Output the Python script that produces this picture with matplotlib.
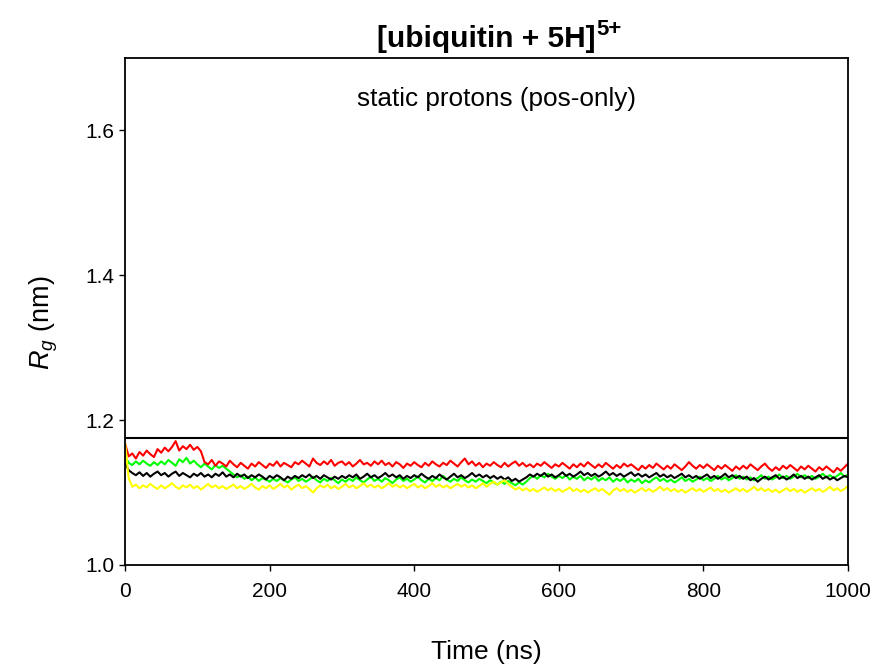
import numpy as np
import matplotlib
matplotlib.use("Agg")
import matplotlib.pyplot as plt

plt.rcParams['font.family'] = ['Liberation Sans', 'DejaVu Sans']
plt.rcParams['mathtext.fontset'] = 'custom'
plt.rcParams['mathtext.rm'] = 'Liberation Sans'
plt.rcParams['mathtext.it'] = 'Liberation Sans:italic'
plt.rcParams['mathtext.bf'] = 'Liberation Sans:bold'

# time axis, one sample every 5 ns
time_ns = np.arange(0, 1001, 5)
rg_crystal = 1.175

# Rg traces (nm)
rg_red = [
    1.168, 1.150, 1.154, 1.147, 1.156, 1.151, 1.158, 1.153, 1.149, 1.160,
    1.155, 1.162, 1.157, 1.163, 1.171, 1.158, 1.164, 1.160, 1.166, 1.159,
    1.163, 1.157, 1.142, 1.139, 1.145, 1.137, 1.143, 1.140, 1.136, 1.144,
    1.139, 1.135, 1.141, 1.137, 1.133, 1.140, 1.136, 1.142, 1.138, 1.134,
    1.140, 1.137, 1.143, 1.136, 1.141, 1.138, 1.135, 1.142, 1.139, 1.144,
    1.140, 1.136, 1.147, 1.141, 1.138, 1.143, 1.139, 1.145, 1.137, 1.141,
    1.143, 1.138, 1.142, 1.136, 1.140, 1.145, 1.139, 1.141, 1.137, 1.143,
    1.139, 1.144, 1.138, 1.141, 1.136, 1.142, 1.139, 1.134, 1.140, 1.137,
    1.142, 1.138, 1.135, 1.141, 1.137, 1.143, 1.139, 1.136, 1.141, 1.138,
    1.144, 1.140, 1.136, 1.142, 1.147, 1.139, 1.143, 1.137, 1.141, 1.135,
    1.140, 1.137, 1.142, 1.138, 1.135, 1.141, 1.136, 1.140, 1.143, 1.137,
    1.141, 1.136, 1.139, 1.135, 1.140, 1.137, 1.142, 1.138, 1.134, 1.139,
    1.136, 1.141, 1.137, 1.133, 1.139, 1.135, 1.140, 1.136, 1.142, 1.138,
    1.134, 1.139, 1.135, 1.141, 1.137, 1.133, 1.138, 1.134, 1.140, 1.136,
    1.139, 1.135, 1.131, 1.137, 1.133, 1.138, 1.134, 1.140, 1.136, 1.132,
    1.137, 1.133, 1.139, 1.135, 1.131, 1.136, 1.142, 1.137, 1.133, 1.138,
    1.134, 1.139, 1.135, 1.131, 1.137, 1.133, 1.138, 1.134, 1.130, 1.136,
    1.132, 1.137, 1.133, 1.139, 1.135, 1.131, 1.136, 1.140, 1.134, 1.130,
    1.135, 1.131, 1.137, 1.133, 1.138, 1.134, 1.130, 1.136, 1.132, 1.137,
    1.133, 1.129, 1.135, 1.131, 1.136, 1.132, 1.128, 1.134, 1.130, 1.135,
    1.140]

rg_green = [
    1.150, 1.141, 1.138, 1.143, 1.139, 1.144, 1.140, 1.137, 1.142, 1.138,
    1.143, 1.139, 1.145, 1.141, 1.137, 1.146, 1.142, 1.148, 1.140, 1.144,
    1.139, 1.135, 1.140, 1.136, 1.132, 1.138, 1.134, 1.137, 1.133, 1.129,
    1.125, 1.121, 1.124, 1.119, 1.122, 1.117, 1.121, 1.116, 1.120, 1.118,
    1.115, 1.119, 1.116, 1.120, 1.117, 1.114, 1.118, 1.121, 1.116, 1.119,
    1.115, 1.118, 1.122, 1.117, 1.114, 1.119, 1.116, 1.120, 1.117, 1.113,
    1.118, 1.115, 1.119, 1.116, 1.121, 1.117, 1.114, 1.118, 1.122, 1.116,
    1.119, 1.115, 1.120, 1.117, 1.113, 1.118, 1.121, 1.116, 1.119, 1.115,
    1.118, 1.122, 1.117, 1.114, 1.119, 1.116, 1.120, 1.117, 1.123, 1.118,
    1.115, 1.119, 1.116, 1.121, 1.117, 1.114, 1.118, 1.115, 1.119, 1.116,
    1.113, 1.117, 1.114, 1.111, 1.115, 1.112, 1.116, 1.113, 1.110, 1.114,
    1.111, 1.115, 1.120, 1.123, 1.119, 1.124, 1.121, 1.126, 1.122, 1.119,
    1.123, 1.120, 1.124, 1.118, 1.122, 1.119, 1.123, 1.117, 1.121, 1.118,
    1.122, 1.116, 1.120, 1.117, 1.121, 1.115, 1.119, 1.116, 1.120, 1.114,
    1.118, 1.115, 1.119, 1.113, 1.117, 1.114, 1.118, 1.121, 1.116, 1.119,
    1.115, 1.118, 1.114, 1.117, 1.121, 1.116, 1.119, 1.115, 1.118, 1.122,
    1.117, 1.120, 1.116, 1.119, 1.123, 1.118, 1.121, 1.117, 1.120, 1.124,
    1.119, 1.122, 1.118, 1.121, 1.117, 1.120, 1.124, 1.119, 1.122, 1.118,
    1.121, 1.125, 1.120, 1.123, 1.119, 1.122, 1.126, 1.121, 1.124, 1.120,
    1.123, 1.119, 1.122, 1.126, 1.121, 1.124, 1.120, 1.123, 1.127, 1.122,
    1.125]

rg_black = [
    1.140, 1.131, 1.127, 1.124, 1.128, 1.123, 1.127, 1.122, 1.126, 1.129,
    1.124, 1.127, 1.122, 1.126, 1.129, 1.123, 1.127, 1.124, 1.121, 1.126,
    1.123, 1.127, 1.122, 1.125, 1.121, 1.126, 1.123, 1.128, 1.122, 1.125,
    1.121, 1.126, 1.122, 1.125, 1.120, 1.124, 1.121, 1.125, 1.122, 1.118,
    1.123, 1.120, 1.124, 1.121, 1.117, 1.122, 1.119, 1.123, 1.120, 1.124,
    1.121, 1.125, 1.120, 1.123, 1.119, 1.124, 1.121, 1.118, 1.122, 1.119,
    1.123, 1.120, 1.124, 1.121, 1.125, 1.119, 1.122, 1.126, 1.121, 1.124,
    1.120, 1.123, 1.127, 1.122, 1.125, 1.121, 1.124, 1.119, 1.123, 1.120,
    1.124, 1.121, 1.126, 1.122, 1.119, 1.123, 1.120, 1.125, 1.121, 1.118,
    1.122, 1.126, 1.121, 1.124, 1.120, 1.123, 1.127, 1.122, 1.125, 1.121,
    1.124, 1.120, 1.123, 1.119, 1.122, 1.118, 1.121, 1.116, 1.119, 1.115,
    1.118, 1.121, 1.125, 1.122, 1.126, 1.123, 1.127, 1.122, 1.125, 1.121,
    1.124, 1.128, 1.123, 1.126, 1.122, 1.125, 1.129, 1.124, 1.127, 1.123,
    1.126, 1.122, 1.125, 1.129, 1.124, 1.127, 1.123, 1.126, 1.122, 1.125,
    1.128, 1.123, 1.126, 1.122, 1.125, 1.121, 1.124, 1.127, 1.122, 1.125,
    1.121, 1.124, 1.120, 1.123, 1.126, 1.121, 1.124, 1.120, 1.123, 1.119,
    1.122, 1.125, 1.120, 1.123, 1.119, 1.122, 1.126, 1.121, 1.124, 1.120,
    1.123, 1.119, 1.122, 1.117, 1.120, 1.115, 1.119, 1.122, 1.118, 1.121,
    1.124, 1.119, 1.122, 1.118, 1.121, 1.125, 1.120, 1.123, 1.119, 1.122,
    1.118, 1.121, 1.124, 1.119, 1.122, 1.118, 1.121, 1.117, 1.120, 1.123,
    1.121]

rg_yellow = [
    1.170, 1.120, 1.108, 1.111, 1.106, 1.110, 1.107, 1.112, 1.108, 1.105,
    1.110, 1.106, 1.109, 1.113, 1.108, 1.105, 1.110, 1.107, 1.111, 1.106,
    1.109, 1.104, 1.108, 1.112, 1.107, 1.110, 1.106, 1.109, 1.105, 1.108,
    1.111, 1.106, 1.109, 1.105, 1.108, 1.112, 1.107, 1.104, 1.109, 1.106,
    1.110, 1.105, 1.108, 1.112, 1.107, 1.110, 1.104, 1.108, 1.111, 1.106,
    1.109, 1.105, 1.100, 1.106, 1.110, 1.107, 1.111, 1.106, 1.109, 1.105,
    1.108, 1.112, 1.107, 1.110, 1.106, 1.109, 1.113, 1.108, 1.111, 1.107,
    1.110, 1.106, 1.109, 1.113, 1.108, 1.111, 1.107, 1.110, 1.106, 1.109,
    1.112, 1.107, 1.110, 1.106, 1.109, 1.113, 1.108, 1.111, 1.107, 1.110,
    1.106, 1.109, 1.112, 1.108, 1.111, 1.107, 1.110, 1.106, 1.109, 1.113,
    1.108, 1.112, 1.115, 1.111, 1.114, 1.117, 1.112, 1.108, 1.104, 1.107,
    1.103, 1.106, 1.102, 1.105, 1.101, 1.104, 1.107, 1.103, 1.106, 1.102,
    1.105, 1.101, 1.104, 1.107, 1.102, 1.105, 1.101, 1.104, 1.100, 1.103,
    1.106, 1.102, 1.105, 1.101, 1.097, 1.103, 1.106, 1.102, 1.105, 1.101,
    1.104, 1.100, 1.103, 1.106, 1.102, 1.105, 1.101, 1.104, 1.108, 1.103,
    1.106, 1.102, 1.105, 1.101, 1.104, 1.100, 1.103, 1.106, 1.102, 1.105,
    1.101, 1.104, 1.107, 1.102, 1.105, 1.101, 1.104, 1.100, 1.103, 1.106,
    1.102, 1.105, 1.101, 1.104, 1.108, 1.103, 1.106, 1.102, 1.105, 1.101,
    1.104, 1.100, 1.103, 1.106, 1.102, 1.105, 1.101, 1.104, 1.100, 1.103,
    1.106, 1.102, 1.105, 1.101, 1.104, 1.108, 1.103, 1.106, 1.102, 1.105,
    1.109]

fig = plt.figure(figsize=(8.73, 6.68), dpi=100)
ax = fig.add_axes([0.1432, 0.1542, 0.8282, 0.759])

ax.axhline(rg_crystal, color='black', lw=1.5)
ax.plot(time_ns, rg_green, color='#00ff00', lw=1.5)
ax.plot(time_ns, rg_black, color='black', lw=1.5)
ax.plot(time_ns, rg_red, color='#ff0000', lw=1.5)
ax.plot(time_ns, rg_yellow, color='#ffff00', lw=1.5)

ax.set_xlim(0, 1000)
ax.set_ylim(1.0, 1.7)
ax.set_xticks([0, 200, 400, 600, 800, 1000])
ax.set_yticks([1.0, 1.2, 1.4, 1.6])
ax.yaxis.set_major_formatter(matplotlib.ticker.FormatStrFormatter('%.1f'))
ax.tick_params(direction='out', length=4.5, width=1, labelsize=15)
ax.tick_params(axis='x', pad=8)
ax.tick_params(axis='y', pad=3)
for s in ax.spines.values():
    s.set_linewidth(1.3)

ax.set_xlabel('Time (ns)', fontsize=19, labelpad=28)
ax.set_ylabel(r'$R_g$ (nm)', fontsize=19.5)
ax.yaxis.set_label_coords(-0.09, 0.477)

# title, with the charge drawn as a separate superscript
title = ax.set_title('[ubiquitin + 5H]', fontsize=21.5, fontweight='bold', pad=8)
fig.canvas.draw()
bb = title.get_window_extent()
fig.text((bb.x1 + 1) / fig.bbox.width, 633 / fig.bbox.height, '5+',
         fontsize=16, fontweight='bold', ha='left', va='baseline')

ax.text(0.514, 0.92, 'static protons (pos-only)', transform=ax.transAxes,
        ha='center', va='center', fontsize=18.8)

fig.savefig('out.png', dpi=100)
